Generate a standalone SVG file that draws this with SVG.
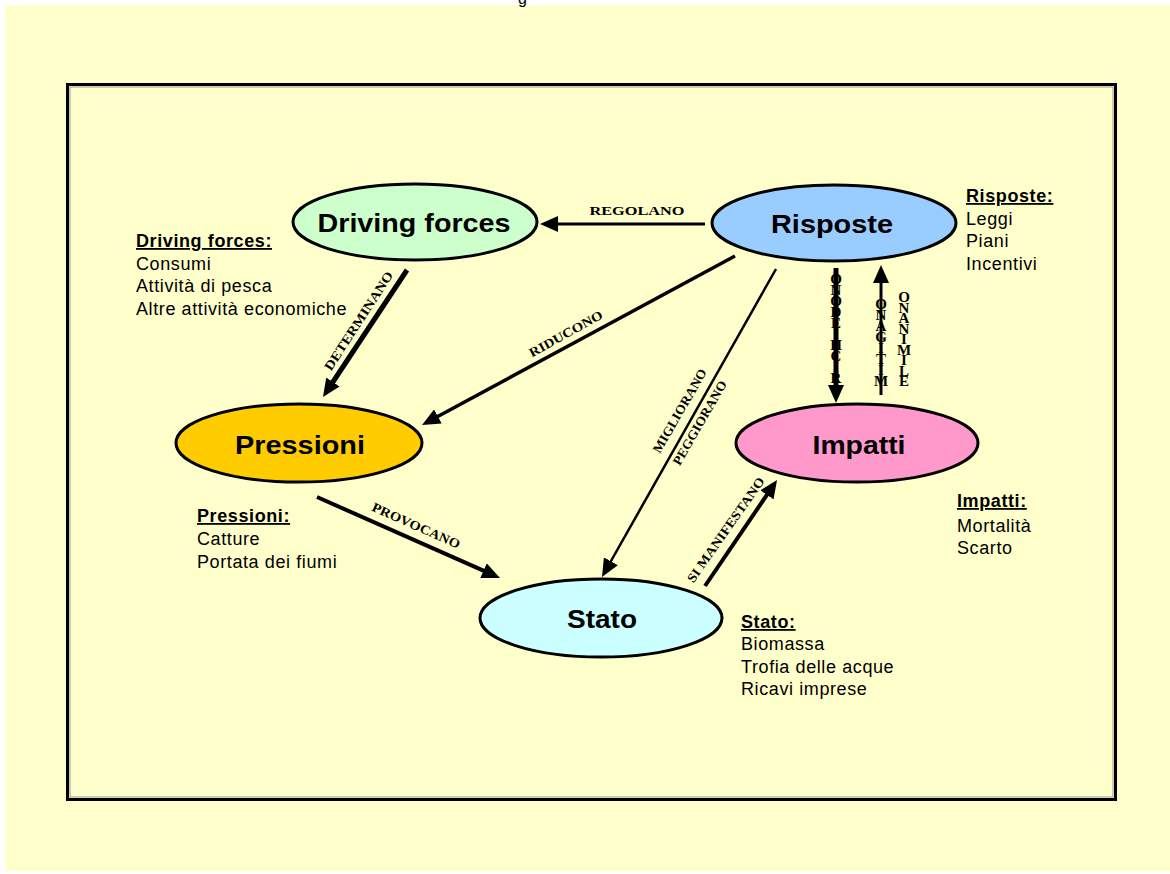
<svg xmlns="http://www.w3.org/2000/svg" width="1170" height="874" viewBox="0 0 1170 874">
<defs>
<style>
.node{stroke:#000;stroke-width:3}
.nt{font-family:"Liberation Sans",Arial,sans-serif;font-weight:bold;font-size:26px;text-anchor:middle;fill:#000}
.side{font-family:"Liberation Sans",Arial,sans-serif;font-size:18px;fill:#000;letter-spacing:0.6px}
.sh{font-weight:bold;text-decoration:underline}
.cl{font-family:"Liberation Serif","Times New Roman",serif;font-weight:bold;font-size:13px;fill:#000;text-anchor:middle}
.st{font-size:15px}
.conn{stroke:#000;fill:none}
</style>
<marker id="ah" markerUnits="userSpaceOnUse" markerWidth="18" markerHeight="16" refX="6" refY="8" orient="auto">
<path d="M0,0 L18,8 L0,16 z" fill="#000"/>
</marker>
</defs>
<rect x="0" y="0" width="1170" height="874" fill="#fff"/>
<rect x="5" y="5" width="1165" height="866" fill="#FFFFCC"/>
<text x="518" y="4" font-family="Liberation Sans,Arial,sans-serif" font-size="16">g</text>
<rect x="67.5" y="84.5" width="1048" height="715" fill="none" stroke="#000" stroke-width="3"/>
<rect x="70" y="87" width="1043" height="710" fill="none" stroke="#999" stroke-width="1"/>

<g id="connectors">
<line class="conn" x1="705" y1="224" x2="552" y2="224" stroke-width="3" marker-end="url(#ah)"/>
<line class="conn" x1="407" y1="270" x2="329.6" y2="387" stroke-width="5" marker-end="url(#ah)"/>
<line class="conn" x1="735" y1="256" x2="432.6" y2="419.3" stroke-width="3.5" marker-end="url(#ah)"/>
<line class="conn" x1="776" y1="269" x2="607.9" y2="566.5" stroke-width="2.5" marker-end="url(#ah)"/>
<line class="conn" x1="317" y1="497" x2="489" y2="573.1" stroke-width="4" marker-end="url(#ah)"/>
<line class="conn" x1="705" y1="586" x2="770.3" y2="489.9" stroke-width="4" marker-end="url(#ah)"/>
<line class="conn" x1="836" y1="268" x2="836" y2="391" stroke-width="5" marker-end="url(#ah)"/>
<line class="conn" x1="881" y1="395" x2="881" y2="277" stroke-width="3" marker-end="url(#ah)"/>

<text class="cl" x="637" y="215" textLength="95" lengthAdjust="spacingAndGlyphs">REGOLANO</text>
<text class="cl" transform="translate(359,321) rotate(-57)" x="0" y="4" textLength="115" lengthAdjust="spacingAndGlyphs">DETERMINANO</text>
<text class="cl" transform="translate(566,334) rotate(-29)" x="0" y="4" textLength="82" lengthAdjust="spacingAndGlyphs">RIDUCONO</text>
<text class="cl" transform="translate(680,411) rotate(-60)" x="0" y="4" textLength="95" lengthAdjust="spacingAndGlyphs">MIGLIORANO</text>
<text class="cl" transform="translate(700,423) rotate(-60)" x="0" y="4" textLength="95" lengthAdjust="spacingAndGlyphs">PEGGIORANO</text>
<text class="cl" transform="translate(416,526) rotate(24)" x="0" y="4" textLength="95" lengthAdjust="spacingAndGlyphs">PROVOCANO</text>
<text class="cl" transform="translate(726,530) rotate(-55)" x="0" y="4" textLength="125" lengthAdjust="spacingAndGlyphs">SI MANIFESTANO</text>
<text class="cl st"><tspan x="836" y="383">R</tspan><tspan x="836" y="372">I</tspan><tspan x="836" y="361">C</tspan><tspan x="836" y="350">H</tspan><tspan x="836" y="339">I</tspan><tspan x="836" y="328">E</tspan><tspan x="836" y="317">D</tspan><tspan x="836" y="306">O</tspan><tspan x="836" y="295">N</tspan><tspan x="836" y="284">O</tspan></text>
<text class="cl st"><tspan x="881" y="386">M</tspan><tspan x="881" y="375">I</tspan><tspan x="881" y="364">T</tspan><tspan x="881" y="353">I</tspan><tspan x="881" y="342">G</tspan><tspan x="881" y="331">A</tspan><tspan x="881" y="320">N</tspan><tspan x="881" y="309">O</tspan></text>
<text class="cl st"><tspan x="904" y="386">E</tspan><tspan x="904" y="375.5">L</tspan><tspan x="904" y="365">I</tspan><tspan x="904" y="354.5">M</tspan><tspan x="904" y="344">I</tspan><tspan x="904" y="333.5">N</tspan><tspan x="904" y="323">A</tspan><tspan x="904" y="312.5">N</tspan><tspan x="904" y="302">O</tspan></text>
</g>

<g id="driving-forces">
<ellipse class="node" cx="415" cy="222" rx="122" ry="38" fill="#CCFFCC"/>
<text class="nt" x="414" y="232" textLength="193" lengthAdjust="spacingAndGlyphs">Driving forces</text>
<text class="side"><tspan class="sh" x="136" y="247">Driving forces:</tspan><tspan x="136" y="270">Consumi</tspan><tspan x="136" y="292">Attività di pesca</tspan><tspan x="136" y="315">Altre attività economiche</tspan></text>
</g>

<g id="risposte">
<ellipse class="node" cx="834" cy="223" rx="122" ry="38" fill="#99CCFF"/>
<text class="nt" x="832" y="233" textLength="122" lengthAdjust="spacingAndGlyphs">Risposte</text>
<text class="side"><tspan class="sh" x="966" y="202">Risposte:</tspan><tspan x="966" y="225">Leggi</tspan><tspan x="966" y="247">Piani</tspan><tspan x="966" y="270">Incentivi</tspan></text>
</g>

<g id="pressioni">
<ellipse class="node" cx="299" cy="443" rx="123" ry="39" fill="#FFCC00"/>
<text class="nt" x="300" y="454" textLength="130" lengthAdjust="spacingAndGlyphs">Pressioni</text>
<text class="side"><tspan class="sh" x="197" y="522">Pressioni:</tspan><tspan x="197" y="545">Catture</tspan><tspan x="197" y="568">Portata dei fiumi</tspan></text>
</g>

<g id="impatti">
<ellipse class="node" cx="857" cy="443" rx="121" ry="39" fill="#FF99CC"/>
<text class="nt" x="859" y="454" textLength="93" lengthAdjust="spacingAndGlyphs">Impatti</text>
<text class="side"><tspan class="sh" x="957" y="507">Impatti:</tspan><tspan x="957" y="532">Mortalità</tspan><tspan x="957" y="554">Scarto</tspan></text>
</g>

<g id="stato">
<ellipse class="node" cx="601" cy="618" rx="121" ry="39" fill="#CCFFFF"/>
<text class="nt" x="602" y="628" textLength="70" lengthAdjust="spacingAndGlyphs">Stato</text>
<text class="side"><tspan class="sh" x="741" y="628">Stato:</tspan><tspan x="741" y="650">Biomassa</tspan><tspan x="741" y="673">Trofia delle acque</tspan><tspan x="741" y="695">Ricavi imprese</tspan></text>
</g>
</svg>
